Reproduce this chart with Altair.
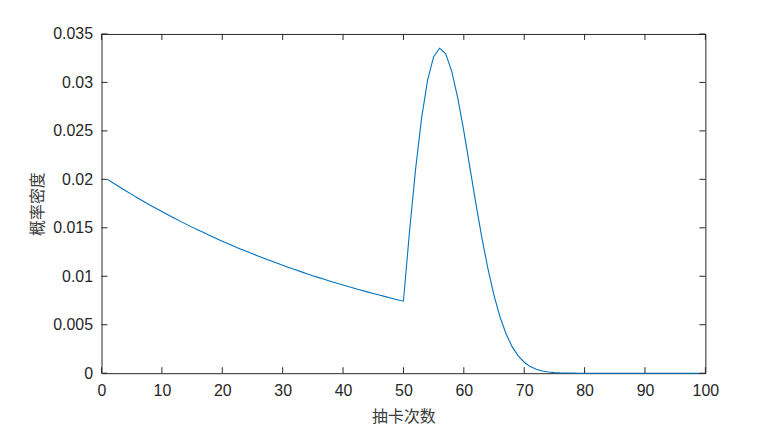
import altair as alt
import pandas as pd

# draws (x) and probability density (y)
draws = list(range(1, 100))
density = [
    0.02000, 0.01960, 0.01921, 0.01882, 0.01845, 0.01808, 0.01772, 0.01736, 0.01702, 0.01668,
    0.01634, 0.01601, 0.01569, 0.01538, 0.01507, 0.01477, 0.01448, 0.01419, 0.01390, 0.01362,
    0.01335, 0.01308, 0.01282, 0.01257, 0.01232, 0.01207, 0.01183, 0.01159, 0.01136, 0.01113,
    0.01091, 0.01069, 0.01048, 0.01027, 0.01006, 0.00986, 0.00966, 0.00947, 0.00928, 0.00910,
    0.00891, 0.00874, 0.00856, 0.00839, 0.00822, 0.00806, 0.00790, 0.00774, 0.00758, 0.00743,
    0.01457, 0.02098, 0.02629, 0.03024, 0.03266, 0.03353, 0.03295, 0.03114, 0.02837, 0.02497,
    0.02124, 0.01749, 0.01394, 0.01075, 0.00803, 0.00580, 0.00405, 0.00274, 0.00179, 0.00113,
    0.00068, 0.00040, 0.00023, 0.00012, 0.00006, 0.00003, 0.00002, 0.00001, 0.0, 0.0,
    0.0, 0.0, 0.0, 0.0, 0.0, 0.0, 0.0, 0.0, 0.0, 0.0,
    0.0, 0.0, 0.0, 0.0, 0.0, 0.0, 0.0, 0.0, 0.0,
]
x_ticks = [0, 10, 20, 30, 40, 50, 60, 70, 80, 90, 100]
y_ticks = [0, 0.005, 0.01, 0.015, 0.02, 0.025, 0.03, 0.035]
x_title = "抽卡次数"
y_title = "概率密度"

W, H = 607, 341
TICK = 6
AX = "#262626"

df = pd.DataFrame({"x": draws, "y": density})
xscale = alt.Scale(domain=[0, 100], nice=False, zero=False)
yscale = alt.Scale(domain=[0, 0.035], nice=False, zero=False)

xaxis = alt.Axis(values=x_ticks, title=x_title, titleX=W / 2, titleY=44,
                 titleBaseline="middle", titleFont="Noto Sans CJK SC",
                 titleFontSize=16, titleFontWeight="normal", titleColor="#3a3a3a",
                 labelPadding=9, labelFlush=False, format="d")
yaxis = alt.Axis(values=y_ticks, title=y_title, titleX=-64, titleY=H / 2,
                 titleAngle=270, titleAlign="center", titleBaseline="middle",
                 titleFont="Noto Sans CJK SC", titleFontSize=16,
                 titleFontWeight="normal", titleColor="#3a3a3a",
                 labelPadding=9, labelFlush=False, format=".3~f")

line = alt.Chart(df).mark_line(color="#0072BD", strokeWidth=1.1).encode(
    x=alt.X("x:Q", scale=xscale, axis=xaxis),
    y=alt.Y("y:Q", scale=yscale, axis=yaxis),
)

xt = pd.DataFrame({"x": x_ticks})
yt = pd.DataFrame({"y": y_ticks})

xb = alt.Chart(xt).mark_rule(color=AX, strokeWidth=1).encode(
    x=alt.X("x:Q", scale=xscale, axis=xaxis), y=alt.value(H), y2=alt.value(H - TICK))
xtp = alt.Chart(xt).mark_rule(color=AX, strokeWidth=1).encode(
    x=alt.X("x:Q", scale=xscale, axis=xaxis), y=alt.value(0), y2=alt.value(TICK))
yl = alt.Chart(yt).mark_rule(color=AX, strokeWidth=1).encode(
    y=alt.Y("y:Q", scale=yscale, axis=yaxis), x=alt.value(0), x2=alt.value(TICK))
yr = alt.Chart(yt).mark_rule(color=AX, strokeWidth=1).encode(
    y=alt.Y("y:Q", scale=yscale, axis=yaxis), x=alt.value(W - TICK), x2=alt.value(W))

chart = alt.layer(line, xb, xtp, yl, yr).properties(
    width=W, height=H,
    padding={"left": 94, "top": 25, "right": 70, "bottom": 53},
    autosize=alt.AutoSizeParams(type="none"),
    background="white",
).configure_view(
    stroke=AX, strokeWidth=1
).configure_axis(
    grid=False, ticks=False, domain=False,
    labelFont="Liberation Sans", labelFontSize=16, labelColor=AX,
)

chart.save("out.html", embed_options={"renderer": "svg", "actions": False})
